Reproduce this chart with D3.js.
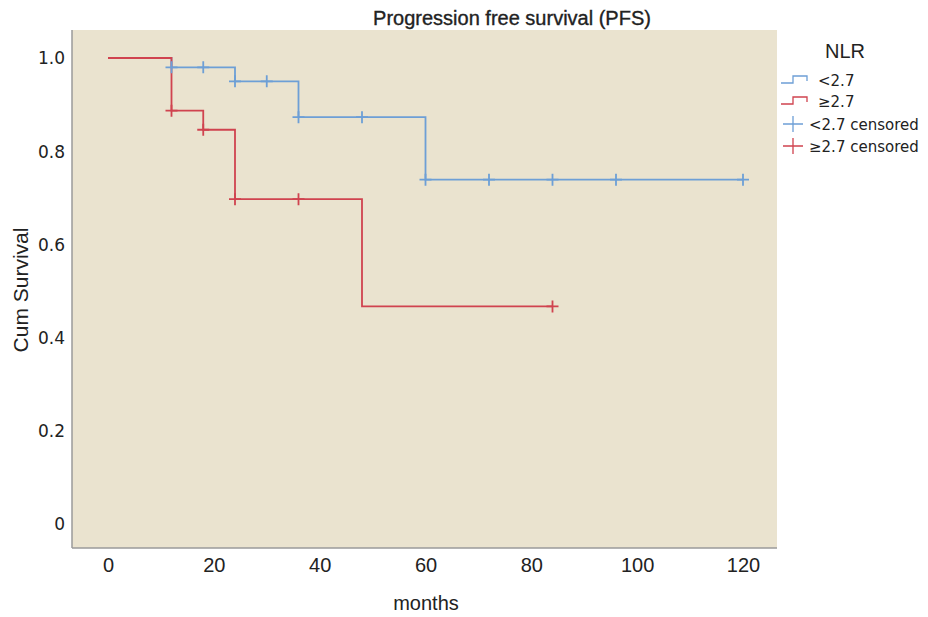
<!DOCTYPE html>
<html><head><meta charset="utf-8">
<script src="https://cdn.jsdelivr.net/npm/d3@7"></script>
<style>body{margin:0;background:#fff;} svg{display:block;font-family:"Liberation Sans",Arial,sans-serif;}</style>
</head><body><svg id="c" width="928" height="617"></svg>
<script>
const groups = ["<2.7", "\u22652.7"];
// step survival curves: [months, survival]
const lowSteps = [[0,1.0],[12,0.980],[24,0.950],[36,0.873],[60,0.739],[120,0.739]];
const highSteps = [[0,1.0],[12,0.887],[18,0.846],[24,0.697],[48,0.467],[84,0.467]];
// censored marks: [months, survival]
const lowCensored = [[12,0.980],[18,0.980],[24,0.950],[30,0.950],[36,0.873],[48,0.873],[60,0.739],[72,0.739],[84,0.739],[96,0.739],[120,0.739]];
const highCensored = [[12,0.887],[18,0.846],[24,0.697],[36,0.697],[84,0.467]];
const xTicks = [0,20,40,60,80,100,120];
const yTicks = [0,0.2,0.4,0.6,0.8,1.0];
const legendLabels = ["<2.7", "\u22652.7", "<2.7 censored", "\u22652.7 censored"];
const colors = {low:"#6d9fd6", high:"#d0434f"};

const svg = d3.select("#c");
const plot = {l:72, t:30, r:777, b:548};
const x = d3.scaleLinear().domain([0,120]).range([108,743]);
const y = d3.scaleLinear().domain([0,1]).range([524,58]);

svg.append("rect").attr("x",plot.l).attr("y",plot.t).attr("width",plot.r-plot.l).attr("height",plot.b-plot.t).attr("fill","#eae3cf");
svg.append("line").attr("x1",plot.l).attr("x2",plot.l).attr("y1",plot.t).attr("y2",plot.b).attr("stroke","#9a9a9a").attr("stroke-width",1.5);
svg.append("line").attr("x1",plot.l).attr("x2",plot.r).attr("y1",plot.b).attr("y2",plot.b).attr("stroke","#9a9a9a").attr("stroke-width",1.5);

// axes
const xa = svg.append("g").attr("transform",`translate(0,${plot.b})`)
  .call(d3.axisBottom(x).tickValues(xTicks).tickSize(0).tickPadding(10).tickFormat(d3.format("d")));
xa.select(".domain").remove();
xa.selectAll("text").attr("font-size",20).attr("fill","#222").attr("font-family","'Liberation Sans',Arial,sans-serif");
const ya = svg.append("g").attr("transform",`translate(${plot.l},0)`)
  .call(d3.axisLeft(y).tickValues(yTicks).tickSize(0).tickPadding(7).tickFormat(d=>d===0?"0":d3.format(".1f")(d)));
ya.select(".domain").remove();
ya.selectAll("text").attr("font-size",17).attr("fill","#222").attr("font-family","'DejaVu Sans',sans-serif").attr("dy","0.35em");

svg.append("text").attr("x",426).attr("y",610).attr("text-anchor","middle").attr("font-size",20).attr("fill","#222").text("months");
svg.append("text").attr("transform","translate(28,290) rotate(-90)").attr("text-anchor","middle").attr("font-size",21).attr("fill","#222").text("Cum Survival");
svg.append("text").attr("x",512).attr("y",25).attr("text-anchor","middle").attr("font-size",20).attr("fill","#222")
  .attr("stroke","#222").attr("stroke-width",0.35).text("Progression free survival (PFS)");

const line = d3.line().x(d=>x(d[0])).y(d=>y(d[1])).curve(d3.curveStepAfter);
svg.append("path").datum(lowSteps).attr("d",line).attr("fill","none").attr("stroke",colors.low).attr("stroke-width",1.8);
svg.append("path").datum(highSteps).attr("d",line).attr("fill","none").attr("stroke",colors.high).attr("stroke-width",1.8);

function cross(g, data, col){
  g.selectAll(null).data(data).enter().append("path")
   .attr("d",d=>`M${x(d[0])-6},${y(d[1])}h12M${x(d[0])},${y(d[1])-6}v12`)
   .attr("stroke",col).attr("stroke-width",1.8).attr("fill","none");
}
cross(svg.append("g"), lowCensored, colors.low);
cross(svg.append("g"), highCensored, colors.high);

// legend
svg.append("text").attr("x",845).attr("y",58).attr("text-anchor","middle").attr("font-size",20).attr("fill","#222").text("NLR");
const lg = svg.append("g");
const rows = [80,101,124,146];
const lcols = [colors.low, colors.high, colors.low, colors.high];
rows.forEach((ry,i)=>{
  if(i<2){
    lg.append("path").attr("d",`M781,${ry+3}h12v-7h14v5`).attr("fill","none").attr("stroke",lcols[i]).attr("stroke-width",1.3);
    lg.append("text").attr("x",818).attr("y",ry+6).attr("font-size",15).attr("fill","#222")
      .attr("font-family","'DejaVu Sans',sans-serif").text(legendLabels[i]);
  } else {
    lg.append("path").attr("d",`M783,${ry}h20M793,${ry-8}v16`).attr("fill","none").attr("stroke",lcols[i]).attr("stroke-width",1.3);
    lg.append("text").attr("x",809).attr("y",ry+6).attr("font-size",15).attr("fill","#222")
      .attr("font-family","'DejaVu Sans',sans-serif").text(legendLabels[i]);
  }
});
</script></body></html>
